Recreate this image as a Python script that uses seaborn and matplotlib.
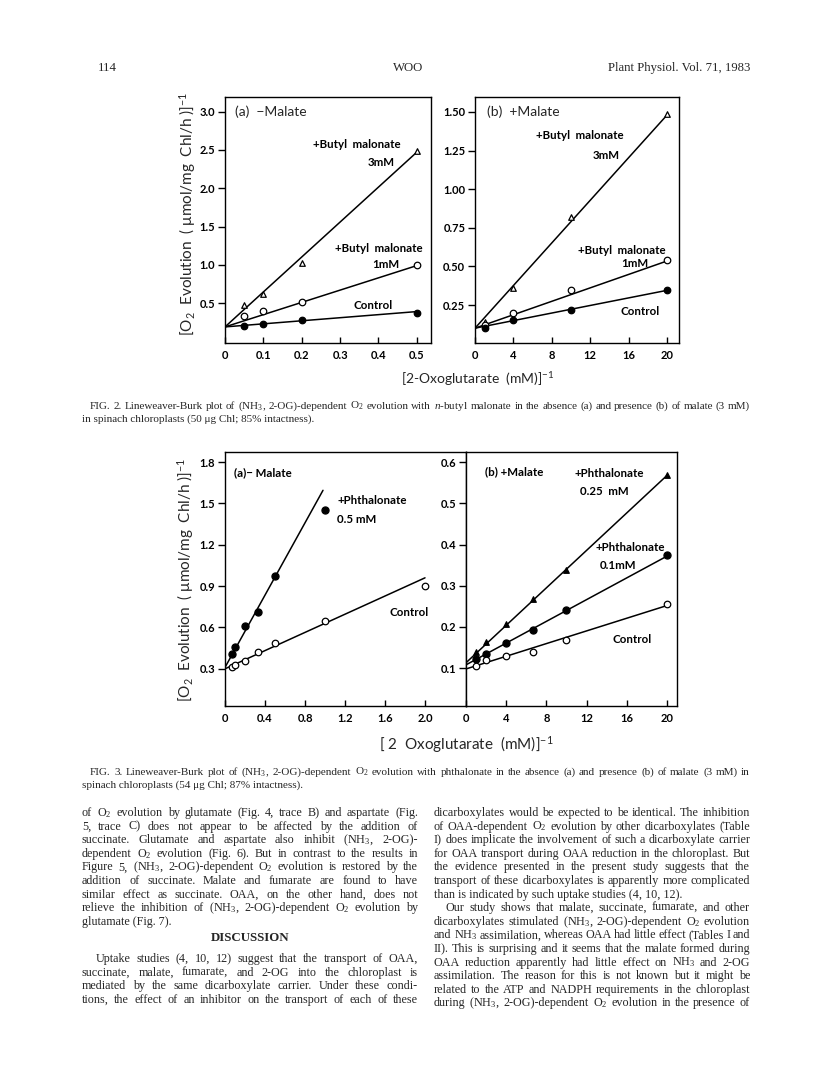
import matplotlib
matplotlib.use("Agg")
import matplotlib.pyplot as plt
import seaborn as sns

# Fig 2 (a) -malate : x = 1/[2-OG]
f2a_x = [0.05, 0.1, 0.2, 0.5]
f2a_bm3 = [0.47, 0.62, 1.03, 2.48]
f2a_bm1 = [0.33, 0.40, 0.51, 1.00]
f2a_ctrl = [0.20, 0.23, 0.28, 0.37]
f2a_fit_x = [0, 0.5]
f2a_fit_bm3 = [0.19, 2.47]
f2a_fit_bm1 = [0.19, 0.99]
f2a_fit_ctrl = [0.19, 0.39]

# Fig 2 (b) +malate
f2b_x = [1, 4, 10, 20]
f2b_bm3 = [0.14, 0.36, 0.82, 1.49]
f2b_bm1 = [0.12, 0.20, 0.35, 0.54]
f2b_ctrl = [0.10, 0.15, 0.22, 0.345]
f2b_fit_x = [0, 20]
f2b_fit_bm3 = [0.10, 1.48]
f2b_fit_bm1 = [0.10, 0.535]
f2b_fit_ctrl = [0.10, 0.345]

# Fig 3 (a) -malate
f3a_x = [0.067, 0.1, 0.2, 0.333, 0.5, 1.0]
f3a_phth = [0.41, 0.46, 0.61, 0.71, 0.97, 1.45]
f3a_ctrl_x = [0.067, 0.1, 0.2, 0.333, 0.5, 1.0, 2.0]
f3a_ctrl = [0.31, 0.325, 0.36, 0.42, 0.49, 0.645, 0.90]
f3a_fit_phth_x = [0, 0.98]
f3a_fit_phth = [0.31, 1.595]
f3a_fit_ctrl_x = [0, 2.0]
f3a_fit_ctrl = [0.30, 0.96]

# Fig 3 (b) +malate
f3b_x = [1, 2, 4, 6.67, 10, 20]
f3b_p025 = [0.138, 0.163, 0.208, 0.267, 0.338, 0.569]
f3b_p01 = [0.122, 0.134, 0.162, 0.193, 0.240, 0.374]
f3b_ctrl = [0.106, 0.120, 0.130, 0.140, 0.169, 0.255]
f3b_fit_x = [0, 20]
f3b_fit_p025 = [0.113, 0.568]
f3b_fit_p01 = [0.108, 0.372]
f3b_fit_ctrl = [0.098, 0.252]

sns.set_theme(style="ticks", rc={"axes.edgecolor": "black", "axes.linewidth": 1.0,
                                 "xtick.color": "black", "ytick.color": "black"})
plt.rcParams["font.family"] = ["Lato", "DejaVu Sans"]
plt.rcParams["mathtext.fontset"] = "custom"
plt.rcParams["mathtext.rm"] = "Liberation Serif"
plt.rcParams["mathtext.it"] = "Liberation Serif:italic"
plt.rcParams["mathtext.default"] = "regular"

W, H = 816, 1073
fig = plt.figure(figsize=(W / 100, H / 100), dpi=100)
fig.patch.set_facecolor("white")


def box(l, t, r, b):
    return [l / W, 1 - b / H, (r - l) / W, (b - t) / H]


def fit(ax, x, y):
    sns.lineplot(x=x, y=y, color="black", lw=1.1, ax=ax, sort=False)


def pts(ax, x, y, marker="o", filled=False, s=22):
    sns.scatterplot(x=x, y=y, marker=marker, s=s, ax=ax, zorder=3,
                    color="black" if filled else "white", edgecolor="black",
                    linewidth=0.9)


def style(ax, xlim, ylim, xt, xl, yt, yl):
    ax.set_xlim(*xlim)
    ax.set_ylim(*ylim)
    ax.set_xticks(xt, labels=xl, fontweight="bold", fontsize=8)
    ax.set_yticks(yt, labels=yl, fontweight="bold", fontsize=8)
    ax.tick_params(axis="y", direction="out", length=5, width=1, pad=2)
    ax.tick_params(axis="x", direction="in", length=4, width=1, pad=5)
    ax.set_xlabel("")
    ax.set_ylabel("")
    ax.set_facecolor("white")


ann = dict(fontsize=8.3, fontweight="bold", color="black")

# ---- Fig 2 (a)
ax = fig.add_axes(box(225, 97, 431, 343))
fit(ax, f2a_fit_x, f2a_fit_bm3)
fit(ax, f2a_fit_x, f2a_fit_bm1)
fit(ax, f2a_fit_x, f2a_fit_ctrl)
pts(ax, f2a_x, f2a_bm3, marker="^", s=16)
pts(ax, f2a_x, f2a_bm1)
pts(ax, f2a_x, f2a_ctrl, filled=True)
style(ax, (0, 0.537), (-0.02, 3.19),
      [0, 0.1, 0.2, 0.3, 0.4, 0.5], ["0", "0.1", "0.2", "0.3", "0.4", "0.5"],
      [0.5, 1.0, 1.5, 2.0, 2.5, 3.0], ["0.5", "1.0", "1.5", "2.0", "2.5", "3.0"])
ax.text(0.025, 3.0, "(a)  \u2212Malate", fontsize=10, va="center")
ax.text(0.229, 2.57, "+Butyl  malonate", va="center", **ann)
ax.text(0.372, 2.33, "3mM", va="center", **ann)
ax.text(0.286, 1.21, "+Butyl  malonate", va="center", **ann)
ax.text(0.383, 1.00, "1mM", va="center", **ann)
ax.text(0.336, 0.47, "Control", va="center", **ann)

# ---- Fig 2 (b)
ax = fig.add_axes(box(475, 97, 679, 343))
fit(ax, f2b_fit_x, f2b_fit_bm3)
fit(ax, f2b_fit_x, f2b_fit_bm1)
fit(ax, f2b_fit_x, f2b_fit_ctrl)
pts(ax, f2b_x, f2b_bm3, marker="^", s=16)
pts(ax, f2b_x, f2b_bm1)
pts(ax, f2b_x, f2b_ctrl, filled=True)
style(ax, (0, 21.25), (0.004, 1.597),
      [0, 4, 8, 12, 16, 20], ["0", "4", "8", "12", "16", "20"],
      [0.25, 0.5, 0.75, 1.0, 1.25, 1.5], ["0.25", "0.50", "0.75", "1.00", "1.25", "1.50"])
ax.text(1.3, 1.50, "(b)  +Malate", fontsize=10, va="center")
ax.text(6.4, 1.35, "+Butyl  malonate", va="center", **ann)
ax.text(12.3, 1.22, "3mM", va="center", **ann)
ax.text(10.7, 0.60, "+Butyl  malonate", va="center", **ann)
ax.text(15.2, 0.52, "1mM", va="center", **ann)
ax.text(15.2, 0.21, "Control", va="center", **ann)

# ---- Fig 3 (a)
ax = fig.add_axes(box(225, 452, 466, 706))
fit(ax, f3a_fit_phth_x, f3a_fit_phth)
fit(ax, f3a_fit_ctrl_x, f3a_fit_ctrl)
pts(ax, f3a_x, f3a_phth, filled=True, s=26)
pts(ax, f3a_ctrl_x, f3a_ctrl)
style(ax, (0, 2.41), (0.03, 1.873),
      [0, 0.4, 0.8, 1.2, 1.6, 2.0], ["0", "0.4", "0.8", "1.2", "1.6", "2.0"],
      [0.3, 0.6, 0.9, 1.2, 1.5, 1.8], ["0.3", "0.6", "0.9", "1.2", "1.5", "1.8"])
ax.text(0.09, 1.72, "(a)\u2212 Malate", va="center", **ann)
ax.text(1.12, 1.52, "+Phthalonate", va="center", **ann)
ax.text(1.12, 1.38, "0.5 mM", va="center", **ann)
ax.text(1.65, 0.71, "Control", va="center", **ann)

# ---- Fig 3 (b)
ax = fig.add_axes(box(466, 452, 677, 706))
fit(ax, f3b_fit_x, f3b_fit_p025)
fit(ax, f3b_fit_x, f3b_fit_p01)
fit(ax, f3b_fit_x, f3b_fit_ctrl)
pts(ax, f3b_x, f3b_p025, marker="^", filled=True, s=16)
pts(ax, f3b_x, f3b_p01, filled=True, s=26)
pts(ax, f3b_x, f3b_ctrl)
style(ax, (0, 21.0), (0.008, 0.625),
      [0, 4, 8, 12, 16, 20], ["0", "4", "8", "12", "16", "20"],
      [0.1, 0.2, 0.3, 0.4, 0.5, 0.6], ["0.1", "0.2", "0.3", "0.4", "0.5", "0.6"])
ax.text(1.9, 0.576, "(b) +Malate", va="center", **ann)
ax.text(10.8, 0.572, "+Phthalonate", va="center", **ann)
ax.text(11.3, 0.528, "0.25  mM", va="center", **ann)
ax.text(12.9, 0.393, "+Phthalonate", va="center", **ann)
ax.text(13.3, 0.350, "0.1mM", va="center", **ann)
ax.text(14.6, 0.170, "Control", va="center", **ann)

# axis titles
ylab = "[O$_2$  Evolution  ( \u03bcmol/mg  Chl/h )]$^{-1}$"
fig.text(188 / W, 1 - 214 / H, ylab, rotation=90, ha="center", va="center", fontsize=11)
fig.text(186 / W, 1 - 580 / H, ylab, rotation=90, ha="center", va="center", fontsize=11)
fig.text(478 / W, 1 - 379 / H, "[2-Oxoglutarate  (mM)]$^{-1}$", ha="center", va="center",
         fontsize=10)
fig.text(466 / W, 1 - 745 / H, "[ 2  Oxoglutarate  (mM)]$^{-1}$", ha="center", va="center",
         fontsize=11)

# ---- page text
serif = ["Liberation Serif", "DejaVu Serif"]
renderer = fig.canvas.get_renderer()


def line(text, x0, x1, y, size=8.7, justify=True, weight="normal"):
    # y is the baseline in pixels from the top
    if not justify:
        fig.text(x0 / W, 1 - y / H, text, family=serif, fontsize=size,
                 va="baseline", ha="left", weight=weight)
        return
    words = text.split()
    arts = [fig.text(0, 1 - y / H, w, family=serif, fontsize=size, va="baseline",
                     ha="left", weight=weight) for w in words]
    widths = [a.get_window_extent(renderer).width for a in arts]
    gap = max((x1 - x0 - sum(widths)) / max(len(words) - 1, 1), 2.0)
    x = x0
    for a, w in zip(arts, widths):
        a.set_x(x / W)
        x += w + gap


fig.text(98 / W, 1 - 71 / H, "114", family=serif, fontsize=9.2, va="baseline")
fig.text(408 / W, 1 - 71 / H, "WOO", family=serif, fontsize=9.2, va="baseline", ha="center")
fig.text(750 / W, 1 - 71 / H, "Plant Physiol. Vol. 71, 1983", family=serif, fontsize=9.2,
         va="baseline", ha="right")

cap2 = ["FIG. 2.  Lineweaver-Burk plot of (NH$_3$, 2-OG)-dependent O$_2$ evolution with "
        "$\\it{n}$-butyl malonate in the absence (a) and presence (b) of malate (3 mM)",
        "in spinach chloroplasts (50 \u03bcg Chl; 85% intactness)."]
cap3 = ["FIG. 3.  Lineweaver-Burk plot of (NH$_3$, 2-OG)-dependent O$_2$ evolution with "
        "phthalonate in the absence (a) and presence (b) of malate (3 mM) in",
        "spinach chloroplasts (54 \u03bcg Chl; 87% intactness)."]
line(cap2[0], 90, 750, 409, size=8.0)
line(cap2[1], 82, 750, 422, size=8.0, justify=False)
line(cap3[0], 90, 750, 775, size=8.0)
line(cap3[1], 82, 750, 788, size=8.0, justify=False)

left_col = [
    "of O$_2$ evolution by glutamate (Fig. 4, trace B) and aspartate (Fig.",
    "5, trace C) does not appear to be affected by the addition of",
    "succinate. Glutamate and aspartate also inhibit (NH$_3$, 2-OG)-",
    "dependent O$_2$ evolution (Fig. 6). But in contrast to the results in",
    "Figure 5, (NH$_3$, 2-OG)-dependent O$_2$ evolution is restored by the",
    "addition of succinate. Malate and fumarate are found to have",
    "similar effect as succinate. OAA, on the other hand, does not",
    "relieve the inhibition of (NH$_3$, 2-OG)-dependent O$_2$ evolution by",
    "glutamate (Fig. 7).",
]
left_col2 = [
    "Uptake studies (4, 10, 12) suggest that the transport of OAA,",
    "succinate, malate, fumarate, and 2-OG into the chloroplast is",
    "mediated by the same dicarboxylate carrier. Under these condi-",
    "tions, the effect of an inhibitor on the transport of each of these",
]
right_col = [
    "dicarboxylates would be expected to be identical. The inhibition",
    "of OAA-dependent O$_2$ evolution by other dicarboxylates (Table",
    "I) does implicate the involvement of such a dicarboxylate carrier",
    "for OAA transport during OAA reduction in the chloroplast. But",
    "the evidence presented in the present study suggests that the",
    "transport of these dicarboxylates is apparently more complicated",
    "than is indicated by such uptake studies (4, 10, 12).",
    "Our study shows that malate, succinate, fumarate, and other",
    "dicarboxylates stimulated (NH$_3$, 2-OG)-dependent O$_2$ evolution",
    "and NH$_3$ assimilation, whereas OAA had little effect (Tables I and",
    "II). This is surprising and it seems that the malate formed during",
    "OAA reduction apparently had little effect on NH$_3$ and 2-OG",
    "assimilation. The reason for this is not known but it might be",
    "related to the ATP and NADPH requirements in the chloroplast",
    "during (NH$_3$, 2-OG)-dependent O$_2$ evolution in the presence of",
]

lh = 13.6
for i, t in enumerate(left_col):
    line(t, 82, 418, 816 + i * lh, justify=i < len(left_col) - 1)
fig.text(250 / W, 1 - 941 / H, "DISCUSSION", family=serif, fontsize=9.3, weight="bold",
         ha="center", va="baseline")
for i, t in enumerate(left_col2):
    line(t, 96 if i == 0 else 82, 418, 962 + i * lh)
for i, t in enumerate(right_col):
    line(t, 446 if i == 7 else 434, 750, 816 + i * lh, justify=i != 6)

plt.savefig("out.png", dpi=100, facecolor="white")
